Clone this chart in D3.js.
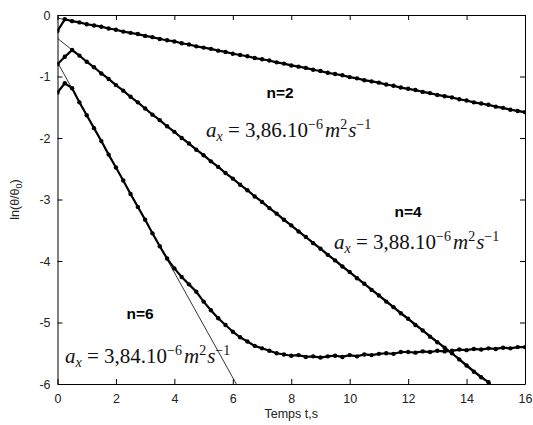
<!DOCTYPE html>
<html>
<head>
<meta charset="utf-8">
<script src="https://cdn.jsdelivr.net/npm/d3@7"></script>
<style>
  body { margin: 0; background: #fff; }
  text { font-family: "Liberation Sans", Arial, sans-serif; }
  .eq { font-family: "Liberation Serif", "Times New Roman", serif; }
</style>
</head>
<body>
<div id="chart"></div>
<script>
// sample times, s (step 0.25)
var times = [0, 0.25, 0.5, 0.75, 1, 1.25, 1.5, 1.75, 2, 2.25, 2.5, 2.75, 3, 3.25, 3.5, 3.75,
  4, 4.25, 4.5, 4.75, 5, 5.25, 5.5, 5.75, 6, 6.25, 6.5, 6.75, 7, 7.25, 7.5, 7.75,
  8, 8.25, 8.5, 8.75, 9, 9.25, 9.5, 9.75, 10, 10.25, 10.5, 10.75, 11, 11.25, 11.5, 11.75,
  12, 12.25, 12.5, 12.75, 13, 13.25, 13.5, 13.75, 14, 14.25, 14.5, 14.75, 15, 15.25, 15.5, 15.75, 16];

// measured ln(theta/theta0)
var n2 = [-0.26, -0.07, -0.10, -0.12, -0.15, -0.17, -0.19, -0.22, -0.24, -0.27, -0.29, -0.31, -0.34, -0.36, -0.39, -0.41,
  -0.43, -0.46, -0.48, -0.51, -0.53, -0.55, -0.58, -0.60, -0.63, -0.65, -0.67, -0.70, -0.72, -0.74, -0.77, -0.79,
  -0.82, -0.84, -0.86, -0.89, -0.91, -0.94, -0.96, -0.98, -1.01, -1.03, -1.06, -1.08, -1.10, -1.13, -1.15, -1.18,
  -1.20, -1.22, -1.25, -1.27, -1.30, -1.32, -1.34, -1.37, -1.39, -1.42, -1.44, -1.46, -1.49, -1.51, -1.54, -1.56, -1.58];

var n4 = [-0.80, -0.68, -0.57, -0.66, -0.76, -0.85, -0.95, -1.04, -1.14, -1.23, -1.33, -1.42, -1.52, -1.62, -1.71, -1.81,
  -1.90, -2.00, -2.09, -2.19, -2.28, -2.38, -2.47, -2.57, -2.66, -2.76, -2.85, -2.95, -3.04, -3.14, -3.23, -3.33,
  -3.42, -3.52, -3.61, -3.71, -3.80, -3.90, -3.99, -4.09, -4.18, -4.28, -4.37, -4.47, -4.56, -4.66, -4.75, -4.85,
  -4.94, -5.04, -5.13, -5.23, -5.32, -5.41, -5.50, -5.60, -5.70, -5.80, -5.89, -5.97];

var n6 = [-1.26, -1.11, -1.19, -1.42, -1.63, -1.84, -2.05, -2.27, -2.48, -2.69, -2.91, -3.12, -3.33, -3.55, -3.76, -3.96,
  -4.12, -4.26, -4.38, -4.50, -4.66, -4.80, -4.93, -5.04, -5.15, -5.24, -5.31, -5.38, -5.42, -5.46, -5.50, -5.52,
  -5.54, -5.53, -5.56, -5.55, -5.57, -5.55, -5.54, -5.56, -5.53, -5.55, -5.52, -5.53, -5.51, -5.50, -5.51, -5.48,
  -5.48, -5.49, -5.47, -5.48, -5.46, -5.47, -5.46, -5.44, -5.45, -5.43, -5.44, -5.42, -5.43, -5.41, -5.42, -5.40, -5.40];

// fitted straight lines [t, y] end points
var fit2 = [[0, -0.05], [16, -1.59]];
var fit4 = [[0, -0.38], [14.84, -6]];
var fit6 = [[0, -0.77], [6.12, -6]];

var xTicks = [0, 2, 4, 6, 8, 10, 12, 14, 16];
var yTicks = [0, -1, -2, -3, -4, -5, -6];

var labels = [
  { n: "n=2", a: "3,86", nx: 280, ny: 98, ex: 206, ey: 137 },
  { n: "n=4", a: "3,88", nx: 408, ny: 217, ex: 334, ey: 249 },
  { n: "n=6", a: "3,84", nx: 140, ny: 319, ex: 65, ey: 363 }
];

var margin = { top: 15, right: 8, bottom: 41, left: 57.5 },
  width = 533 - margin.left - margin.right,
  height = 425 - margin.top - margin.bottom;

var svg = d3.select("#chart")
  .append("svg")
  .attr("width", 533)
  .attr("height", 425);

var g = svg.append("g")
  .attr("transform", "translate(" + margin.left + "," + margin.top + ")");

var x = d3.scaleLinear().domain([0, 16]).range([0, width]);
var y = d3.scaleLinear().domain([-6, 0]).range([height, 0]);

g.append("clipPath").attr("id", "clip")
  .append("rect").attr("width", width).attr("height", height);

// axes, ticks pointing inward
function styleAxis(sel) {
  sel.selectAll("path.domain").attr("stroke", "#000");
  sel.selectAll(".tick line").attr("stroke", "#000");
  sel.selectAll(".tick text")
    .attr("fill", "#222")
    .style("font-family", "'Liberation Sans', Arial, sans-serif")
    .style("font-size", "12.5px");
}

g.append("g")
  .attr("transform", "translate(0," + height + ")")
  .call(d3.axisBottom(x).tickValues(xTicks).tickSize(-5).tickSizeOuter(0).tickPadding(10)
    .tickFormat(function (d) { return String(d); }))
  .call(styleAxis);

g.append("g")
  .call(d3.axisTop(x).tickValues(xTicks).tickSize(-5).tickSizeOuter(0).tickFormat(""))
  .call(styleAxis);

g.append("g")
  .call(d3.axisLeft(y).tickValues(yTicks).tickSize(-5).tickSizeOuter(0).tickPadding(7)
    .tickFormat(function (d) { return String(d); }))
  .call(styleAxis);

g.append("g")
  .attr("transform", "translate(" + width + ",0)")
  .call(d3.axisRight(y).tickValues(yTicks).tickSize(-5).tickSizeOuter(0).tickFormat(""))
  .call(styleAxis);

// fit lines
var plot = g.append("g").attr("clip-path", "url(#clip)");
var fitLine = d3.line().x(function (d) { return x(d[0]); }).y(function (d) { return y(d[1]); });
[fit2, fit4, fit6].forEach(function (f) {
  plot.append("path")
    .attr("d", fitLine(f))
    .attr("fill", "none")
    .attr("stroke", "#000")
    .attr("stroke-width", 0.8);
});

// measured series
var dataLine = d3.line()
  .x(function (d, i) { return x(times[i]); })
  .y(function (d) { return y(d); });

[n2, n4, n6].forEach(function (s) {
  plot.append("path")
    .attr("d", dataLine(s))
    .attr("fill", "none")
    .attr("stroke", "#000")
    .attr("stroke-width", 2.2);
  plot.selectAll(null)
    .data(s)
    .enter()
    .append("circle")
    .attr("cx", function (d, i) { return x(times[i]); })
    .attr("cy", function (d) { return y(d); })
    .attr("r", 2.2)
    .attr("fill", "#000");
});

// annotations
labels.forEach(function (l) {
  svg.append("text")
    .attr("x", l.nx)
    .attr("y", l.ny)
    .attr("text-anchor", "middle")
    .style("font-weight", "bold")
    .style("font-size", "15.5px")
    .text(l.n);

  var t = svg.append("text")
    .attr("class", "eq")
    .attr("x", l.ex)
    .attr("y", l.ey)
    .style("font-size", "21px")
    .attr("fill", "#111");
  t.append("tspan").style("font-style", "italic").text("a");
  t.append("tspan").style("font-style", "italic").style("font-size", "14px").attr("dy", 4).text("x");
  t.append("tspan").attr("dy", -4).text(" = " + l.a + ".10");
  t.append("tspan").style("font-size", "14px").attr("dy", -8).text("\u22126");
  t.append("tspan").style("font-style", "italic").attr("dy", 8).attr("dx", 2).text("m");
  t.append("tspan").style("font-size", "14px").attr("dy", -8).text("2");
  t.append("tspan").style("font-style", "italic").attr("dy", 8).attr("dx", 1).text("s");
  t.append("tspan").style("font-size", "14px").attr("dy", -8).text("\u22121");
});

// axis labels
svg.append("text")
  .attr("x", margin.left + width / 2)
  .attr("y", 418)
  .attr("text-anchor", "middle")
  .style("font-size", "12.5px")
  .attr("fill", "#222")
  .text("Temps t,s");

var yl = svg.append("text")
  .attr("transform", "translate(19," + (margin.top + height / 2) + ") rotate(-90)")
  .attr("text-anchor", "middle")
  .style("font-size", "12.5px")
  .attr("fill", "#222");
yl.append("tspan").text("ln(\u03b8/\u03b8");
yl.append("tspan").style("font-size", "9px").attr("dy", 3).text("0");
yl.append("tspan").attr("dy", -3).text(")");
</script>
</body>
</html>
